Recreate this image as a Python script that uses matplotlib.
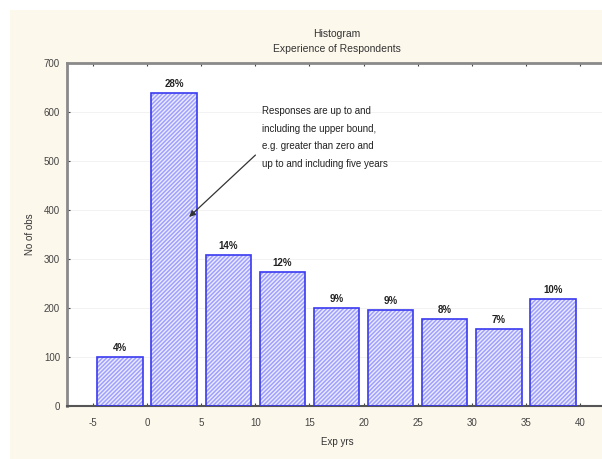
import matplotlib.pyplot as plt
from matplotlib.patches import Rectangle

plt.rcParams['font.family'] = ['Liberation Sans', 'DejaVu Sans']
plt.rcParams['axes.unicode_minus'] = False

# bins of experience (upper bounds), counts and share labels
bin_edges = [-5, 0, 5, 10, 15, 20, 25, 30, 35, 40]
counts = [101, 639, 308, 273, 201, 196, 178, 157, 218]
pct_labels = ['4%', '28%', '14%', '12%', '9%', '9%', '8%', '7%', '10%']
y_ticks = [0, 100, 200, 300, 400, 500, 600, 700]

note = ("Responses are up to and\nincluding the upper bound,\n"
        "e.g. greater than zero and\nup to and including five years")

fig = plt.figure(figsize=(6.02, 4.59), dpi=100)
fig.patch.set_facecolor('white')
# cream panel behind the chart
fig.patches.append(Rectangle((10 / 602, 0.0), 1.0, 1 - 10 / 459,
                             transform=fig.transFigure, facecolor='#fdf8ec',
                             edgecolor='none', zorder=-10))

ax = fig.add_axes([67 / 602, 1 - 406 / 459, 540 / 602, (406 - 63) / 459])
ax.set_facecolor('white')

centers = [(a + b) / 2 for a, b in zip(bin_edges[:-1], bin_edges[1:])]
width = 4.2

# hatched fill (white hatch over lavender), then blue outline
ax.bar(centers, counts, width=width, color='#a0a0ff', edgecolor='#ececff',
       hatch='////////', linewidth=0, zorder=2)
ax.bar(centers, counts, width=width, fill=False, edgecolor='#3a3af0',
       linewidth=1.2, zorder=3)

for c, v, lab in zip(centers, counts, pct_labels):
    ax.text(c, v + 8, lab, ha='center', va='bottom', fontsize=7,
            fontweight='bold', color='#222222')

ax.annotate('', xy=(3.7, 382), xytext=(10.2, 516),
            arrowprops=dict(arrowstyle='-|>', color='#333333', lw=0.9,
                            mutation_scale=9), zorder=4)
ax.text(10.6, 612, note, ha='left', va='top', fontsize=7, color='#222222',
        linespacing=1.95, zorder=4)

ax.set_xlim(-7.4, 42.5)
ax.set_ylim(0, 700)
ax.set_xticks(bin_edges)
ax.set_yticks(y_ticks)
ax.yaxis.grid(True, color='#f0f0f0', linewidth=0.6)
ax.set_axisbelow(True)

ax.tick_params(axis='both', labelsize=7, colors='#444444', length=2.5,
               width=0.8, direction='in', pad=5)
ax.tick_params(axis='x', top=True, pad=9)

for side in ['left', 'top']:
    ax.spines[side].set_color('#8a8a8a')
    ax.spines[side].set_linewidth(2)
ax.spines['bottom'].set_color('#555555')
ax.spines['bottom'].set_linewidth(1.5)
ax.spines['right'].set_visible(False)

ax.set_xlabel('Exp yrs', fontsize=7, color='#333333', labelpad=6)
ax.set_ylabel('No of obs', fontsize=7, color='#333333', labelpad=6)
ax.set_title('Histogram\nExperience of Respondents', fontsize=7.5,
             color='#333333', pad=8, linespacing=1.6)

fig.savefig('out.png', dpi=100, facecolor=fig.get_facecolor())
